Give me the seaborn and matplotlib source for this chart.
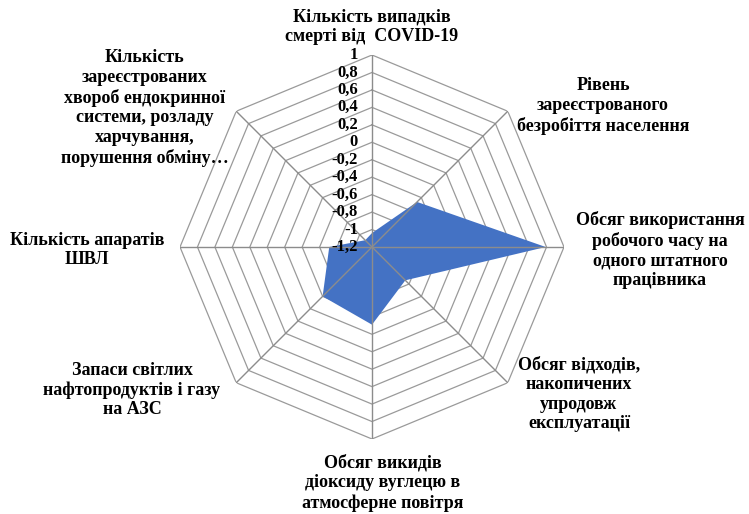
import numpy as np
import matplotlib
matplotlib.use("Agg")
import matplotlib.pyplot as plt
import seaborn as sns

# --- data ---
categories = [
    "Кількість випадків\nсмерті від  COVID-19",
    "Рівень\nзареєстрованого\nбезробіття населення",
    "Обсяг використання\nробочого часу на\nодного штатного\nпрацівника",
    "Обсяг відходів,\nнакопичених\nупродовж\nексплуатації",
    "Обсяг викидів\nдіоксиду вуглецю в\nатмосферне повітря",
    "Запаси світлих\nнафтопродуктів і газу\nна АЗС",
    "Кількість апаратів\nШВЛ",
    "Кількість\nзареєстрованих\nхвороб ендокринної\nсистеми, розладу\nхарчування,\nпорушення обміну…",
]
values = [-1.04, -0.47, 0.79, -0.66, -0.31, -0.40, -0.71, -1.09]
levels = [-1.2, -1.0, -0.8, -0.6, -0.4, -0.2, 0.0, 0.2, 0.4, 0.6, 0.8, 1.0]
level_labels = ["-1,2", "-1", "-0,8", "-0,6", "-0,4", "-0,2", "0",
                "0,2", "0,4", "0,6", "0,8", "1"]

# label centre offsets from the chart centre, in pixels (x right, y up)
label_offsets = [(0, 220), (231, 141), (288, -3), (207, -147),
                 (11, -236), (-240, -143), (-285, -3), (-227, 139)]

sns.set_theme(style="white")
plt.rcParams['font.family'] = ['Liberation Serif', 'DejaVu Serif']

fig = plt.figure(figsize=(7.49, 5.14), dpi=100)
ax = fig.add_axes([180 / 749, 75 / 514, 384 / 749, 384 / 514], projection='polar')
ax.set_theta_offset(np.pi / 2)
ax.set_theta_direction(-1)
ax.set_ylim(levels[0], levels[-1])
ax.grid(False)
ax.spines['polar'].set_visible(False)
ax.set_xticks([])
ax.set_yticks([])
ax.patch.set_alpha(0)

n = len(categories)
angles = np.linspace(0, 2 * np.pi, n, endpoint=False)
ang_closed = np.append(angles, angles[0])

# octagonal grid rings
for lv in levels[1:]:
    ax.plot(ang_closed, [lv] * (n + 1), color='#9a9a9a', lw=0.9, zorder=1)

# data polygon
ax.fill(ang_closed, values + values[:1], color='#4472C4', lw=0, zorder=2)

# spokes
for a in angles:
    ax.plot([a, a], [levels[0], levels[-1]], color='#8c8c8c', lw=1.0, zorder=3)

# value labels along the top axis
for lv, lab in zip(levels, level_labels):
    ax.annotate(lab, xy=(0, lv), xytext=(-14, 0), textcoords='offset pixels',
                ha='right', va='center', fontsize=12, fontweight='bold',
                color='black', zorder=4)

# category labels
for lab, (dx, dy) in zip(categories, label_offsets):
    ax.annotate(lab, xy=(0, levels[0]), xytext=(dx, dy), textcoords='offset pixels',
                ha='center', va='center', multialignment='center',
                fontsize=13, fontweight='bold', linespacing=1.2,
                color='black', annotation_clip=False)

fig.savefig('out.png', dpi=100)
